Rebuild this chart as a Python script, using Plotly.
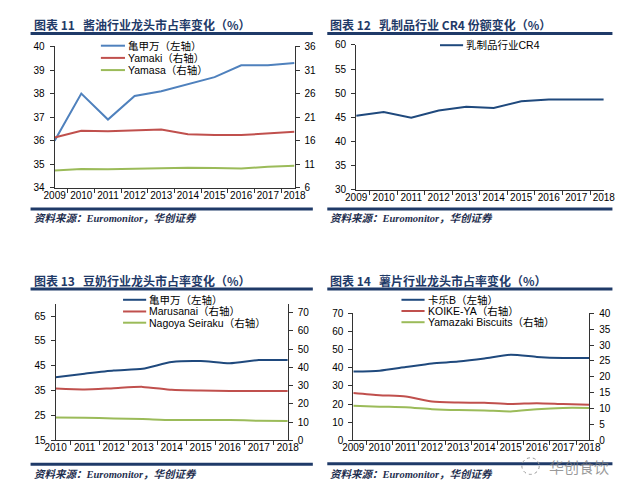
import plotly.graph_objects as go

W, H = 628, 487

# ---------------- data ----------------
years_a = ["2009", "2010", "2011", "2012", "2013", "2014", "2015", "2016", "2017", "2018"]
years_c = ["2010", "2011", "2012", "2013", "2014", "2015", "2016", "2017", "2018"]

# Panel 11: soy sauce
soy_names = ["亀甲万（左轴）", "Yamaki（右轴）", "Yamasa（右轴）"]
soy_kikkoman = [36.0, 38.0, 36.9, 37.9, 38.1, 38.4, 38.7, 39.2, 39.2, 39.3]
soy_yamaki = [16.7, 18.1, 18.0, 18.2, 18.4, 17.4, 17.2, 17.2, 17.6, 17.9]
soy_yamasa = [9.7, 10.0, 9.95, 10.1, 10.1, 10.3, 10.2, 10.1, 10.5, 10.7]

# Panel 12: dairy CR4
dairy_name = "乳制品行业CR4"
dairy_cr4 = [45.3, 46.1, 44.9, 46.4, 47.2, 46.9, 48.3, 48.7, 48.7, 48.7]

# Panel 13: soy milk
soymilk_names = ["亀甲万（左轴）", "Marusanai（右轴）", "Nagoya Seiraku（右轴）"]
soymilk_kikkoman = [40.4, 41.8, 43.1, 43.8, 46.5, 46.9, 46.0, 47.3, 47.3]
soymilk_marusanai = [28.4, 27.9, 28.6, 29.3, 27.7, 27.3, 27.1, 27.1, 27.1]
soymilk_nagoya = [12.5, 12.3, 12.0, 11.6, 11.1, 11.1, 11.1, 10.7, 10.5]

# Panel 14: potato chips
chips_names = ["卡乐B（左轴）", "KOIKE-YA（右轴）", "Yamazaki Biscuits（右轴）"]
chips_calbee = [37.9, 38.4, 40.4, 42.4, 43.4, 45.1, 47.2, 46.0, 45.4, 45.4]
chips_koikeya = [14.9, 14.2, 13.8, 12.2, 11.9, 11.8, 11.4, 11.7, 11.4, 11.2]
chips_yamazaki = [10.9, 10.6, 10.4, 9.8, 9.5, 9.4, 9.1, 9.8, 10.2, 10.2]

titles = [
    "图表\u00a011\u00a0\u00a0\u00a0酱油行业龙头市占率变化（%）",
    "图表\u00a012\u00a0\u00a0\u00a0乳制品行业\u00a0CR4\u00a0份额变化（%）",
    "图表\u00a013\u00a0\u00a0\u00a0豆奶行业龙头市占率变化（%）",
    "图表\u00a014\u00a0\u00a0\u00a0薯片行业龙头市占率变化（%）",
]
source_text = "资料来源：Euromonitor，华创证券"

# ---------------- styles ----------------
NAVY = "#1f3a68"
C_BLUE = "#4f81bd"
C_NAVY = "#1f497d"
C_RED = "#c0504d"
C_GREEN = "#9bbb59"
AXC = "#333333"
TICKF = dict(family="Liberation Sans, Arial, sans-serif", size=10, color="#000000")
CJK = "Noto Sans CJK SC, Liberation Sans, sans-serif"


def px(x):
    return x / W


def py(y):
    return 1 - y / H


fig = go.Figure()


def add_line(x, y, xa, ya, color, shape="linear"):
    fig.add_trace(go.Scatter(
        x=x, y=y, xaxis=xa, yaxis=ya, mode="lines",
        line=dict(color=color, width=2, shape=shape, smoothing=0.6),
        showlegend=False, hoverinfo="x+y",
    ))


add_line(years_a, soy_kikkoman, "x", "y", C_BLUE)
add_line(years_a, soy_yamaki, "x", "y2", C_RED)
add_line(years_a, soy_yamasa, "x", "y2", C_GREEN)

add_line(years_a, dairy_cr4, "x2", "y3", C_NAVY)

add_line(years_c, soymilk_kikkoman, "x3", "y4", C_NAVY, "spline")
add_line(years_c, soymilk_marusanai, "x3", "y5", C_RED, "spline")
add_line(years_c, soymilk_nagoya, "x3", "y5", C_GREEN, "spline")

add_line(years_a, chips_calbee, "x4", "y6", C_NAVY, "spline")
add_line(years_a, chips_koikeya, "x4", "y7", C_RED, "spline")
add_line(years_a, chips_yamazaki, "x4", "y7", C_GREEN, "spline")


def xaxis(domain, anchor):
    return dict(domain=[px(domain[0]), px(domain[1])], anchor=anchor, type="category",
                showline=True, linecolor=AXC, linewidth=1, ticks="outside",
                tickson="boundaries", ticklen=4, tickcolor=AXC, tickfont=TICKF,
                tickangle=0, ticklabelstandoff=-2,
                showgrid=False, zeroline=False, fixedrange=True)


def yaxis(domain, anchor, rng, tickvals, side="left", overlaying=None):
    d = dict(anchor=anchor, range=rng, tickvals=tickvals, side=side,
             showline=True, linecolor=AXC, linewidth=1, ticks="outside",
             ticklen=4, tickcolor=AXC, tickfont=TICKF, showgrid=False,
             zeroline=False, fixedrange=True, ticklabelstandoff=3)
    if overlaying:
        d["overlaying"] = overlaying
    else:
        d["domain"] = [py(domain[1]), py(domain[0])]
    return d


# plot-area pixel boxes (left, right), (top, bottom)
p1x, p1y = (37, 286), (33.3, 178.3)
p2x, p2y = (350, 607), (31.7, 180)
p3x, p3y = (38, 279), (297, 437)
p4x, p4y = (347, 592), (307, 437)

fig.update_layout(
    xaxis=xaxis(p1x, "y"),
    yaxis=yaxis(p1y, "x", [34, 40], list(range(34, 41))),
    yaxis2=yaxis(None, "x", [6, 36], list(range(6, 37, 5)), "right", "y"),
    xaxis2=xaxis(p2x, "y3"),
    yaxis3=yaxis(p2y, "x2", [30, 60], list(range(30, 61, 5))),
    xaxis3=xaxis(p3x, "y4"),
    yaxis4=yaxis(p3y, "x3", [15, 70], list(range(15, 66, 10))),
    yaxis5=yaxis(None, "x3", [0, 75], list(range(0, 71, 10)), "right", "y4"),
    xaxis4=xaxis(p4x, "y6"),
    yaxis6=yaxis(p4y, "x4", [0, 70], list(range(0, 71, 10))),
    yaxis7=yaxis(None, "x4", [0, 40], list(range(0, 41, 5)), "right", "y6"),
)

shapes = []
annotations = []

# titles, rules, sources
panels = [
    dict(x0=12, x1=305, title_y=11, top_rule=20, bot_rule=200, src_y=210),
    dict(x0=320, x1=616, title_y=11, top_rule=20, bot_rule=200, src_y=210),
    dict(x0=12, x1=305, title_y=273, top_rule=282, bot_rule=461.5, src_y=472),
    dict(x0=320, x1=616, title_y=273, top_rule=282, bot_rule=461, src_y=472),
]
for p, t in zip(panels, titles):
    annotations.append(dict(
        x=px(p["x0"] + 1), y=py(p["title_y"]), xref="paper", yref="paper",
        text="<b>" + t + "</b>", showarrow=False, xanchor="left", yanchor="middle",
        font=dict(family=CJK, size=12, color=NAVY)))
    shapes.append(dict(type="line", xref="paper", yref="paper",
                       x0=px(p["x0"]), x1=px(p["x1"]), y0=py(p["top_rule"]), y1=py(p["top_rule"]),
                       line=dict(color=NAVY, width=3)))
    shapes.append(dict(type="line", xref="paper", yref="paper",
                       x0=px(p["x0"]), x1=px(p["x1"]), y0=py(p["bot_rule"]), y1=py(p["bot_rule"]),
                       line=dict(color=NAVY, width=3)))
    annotations.append(dict(
        x=px(p["x0"] + 1), y=py(p["src_y"]), xref="paper", yref="paper",
        text="<i><b>" + source_text + "</b></i>", showarrow=False, xanchor="left", yanchor="middle",
        font=dict(family="Liberation Serif, " + CJK, size=10.5, color="#1f2f4f")))


# manual legends
def legend(x_line0, x_line1, ys, names, colors):
    for yy, n, c in zip(ys, names, colors):
        shapes.append(dict(type="line", xref="paper", yref="paper",
                           x0=px(x_line0), x1=px(x_line1), y0=py(yy), y1=py(yy),
                           line=dict(color=c, width=2)))
        annotations.append(dict(
            x=px(x_line1 + 1), y=py(yy), xref="paper", yref="paper", text=n,
            showarrow=False, xanchor="left", yanchor="middle",
            font=dict(family="Liberation Sans, " + CJK, size=10.5, color="#000000")))


legend(85, 110, [32.5, 45, 57.5], soy_names, [C_BLUE, C_RED, C_GREEN])
legend(437, 461, [32], [dairy_name], [C_NAVY])
legend(108, 132, [293, 305, 316.5], soymilk_names, [C_NAVY, C_RED, C_GREEN])
legend(397, 421, [293, 304.5, 316], chips_names, [C_NAVY, C_RED, C_GREEN])

# watermark
shapes.append(dict(type="circle", xref="paper", yref="paper",
                   x0=px(522), x1=px(540), y0=py(472), y1=py(455),
                   line=dict(color="#9a9a9a", width=1, dash="dot")))
annotations.append(dict(
    x=px(548), y=py(464), xref="paper", yref="paper", text="华创食饮",
    showarrow=False, xanchor="left", yanchor="middle",
    font=dict(family=CJK, size=15, color="rgba(120,120,120,0.75)")))

fig.update_layout(
    width=W, height=H, margin=dict(l=0, r=0, t=0, b=0),
    paper_bgcolor="white", plot_bgcolor="white",
    shapes=shapes, annotations=annotations, showlegend=False,
)

fig.write_html("out.html", config={"displayModeBar": False})
